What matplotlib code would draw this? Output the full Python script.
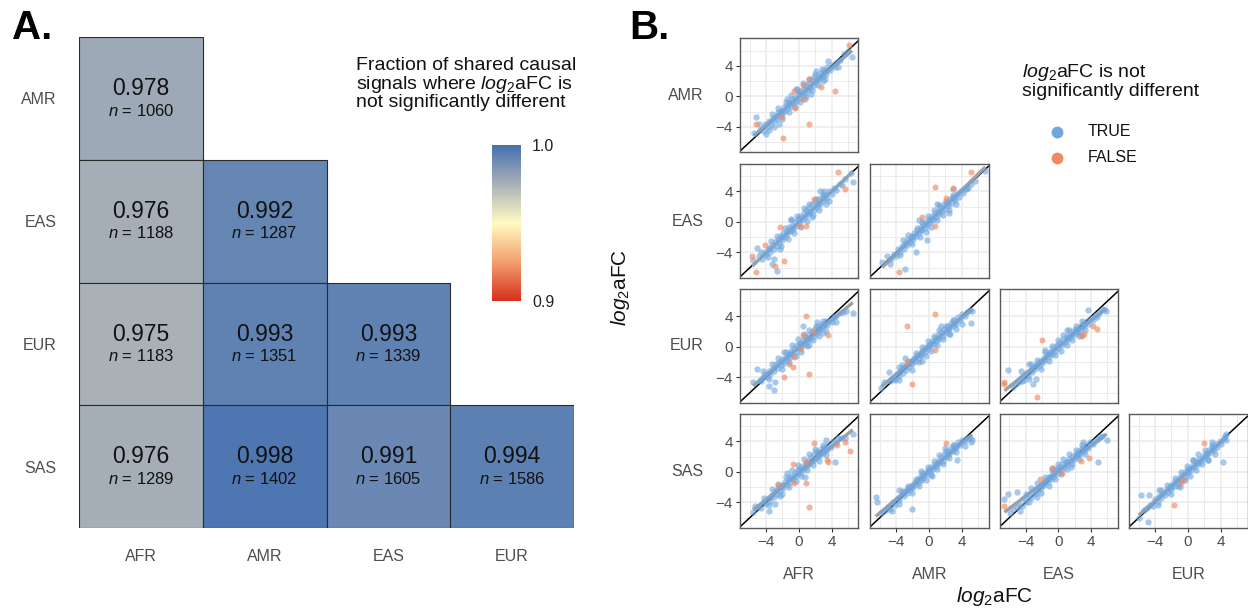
import matplotlib.pyplot as plt
import numpy as np
from matplotlib.colors import LinearSegmentedColormap, Normalize
from matplotlib.patches import Rectangle
from matplotlib.lines import Line2D

plt.rcParams['font.family'] = ['Liberation Sans', 'DejaVu Sans']
plt.rcParams['mathtext.fontset'] = 'custom'
plt.rcParams['mathtext.rm'] = 'Liberation Sans'
plt.rcParams['mathtext.it'] = 'Liberation Sans:italic'

W, H = 1248, 610

# panel A: fraction of shared signals with no significant log2aFC difference
row_pops = ['AMR', 'EAS', 'EUR', 'SAS']
col_pops = ['AFR', 'AMR', 'EAS', 'EUR']
frac_same = [
    [0.978, None, None, None],
    [0.976, 0.992, None, None],
    [0.975, 0.993, 0.993, None],
    [0.976, 0.998, 0.991, 0.994],
]
n_shared = [
    [1060, None, None, None],
    [1188, 1287, None, None],
    [1183, 1351, 1339, None],
    [1289, 1402, 1605, 1586],
]

# panel B: log2aFC of shared signals, (x, y) per population pair
amr_afr_true = [
    (-4.7, -4.4), (-4.3, -4.6), (-4.1, -3.7), (-3.8, -4.0), (-3.6, -3.3), (-3.4, -3.7), (-3.2, -2.9),
    (-3.0, -3.3), (-2.8, -2.6), (-2.7, -3.0), (-2.5, -2.1), (-2.3, -2.6), (-2.2, -1.9), (-2.0, -2.3),
    (-1.8, -1.4), (-1.7, -1.9), (-1.5, -1.1), (-1.3, -1.6), (-1.2, -0.8), (-1.0, -1.3), (-0.8, -0.4),
    (-0.6, -0.9), (-0.5, -0.2), (-0.3, -0.6), (-0.1, 0.3), (0.1, -0.2), (0.2, 0.7), (0.4, 0.1),
    (0.6, 1.1), (0.7, 0.4), (0.9, 1.5), (1.1, 0.8), (1.2, 1.7), (1.4, 1.1), (1.6, 2.1), (1.8, 1.5),
    (1.9, 2.5), (2.1, 1.9), (2.3, 2.7), (2.5, 2.2), (2.7, 3.1), (2.9, 2.5), (3.1, 3.4), (3.3, 2.9),
    (3.5, 3.8), (3.8, 3.4), (4.1, 4.1), (4.4, 3.9), (4.7, 4.5), (5.0, 4.8),
    (-2.6, -1.6), (-2.0, -3.0), (-1.6, -0.7), (-1.2, -2.1), (-0.9, 0.1), (-0.5, -1.4), (-0.2, 0.9),
    (0.2, -0.8), (0.5, 1.7), (0.9, 0.0), (1.2, 2.3), (1.6, 0.8), (2.0, 2.9), (2.4, 1.5), (2.8, 3.6),
    (3.2, 2.2), (-3.3, -2.3), (-3.6, -4.4), (0.0, 0.6), (1.0, 1.1), (-1.0, -0.9), (2.2, 2.2),
    (-2.0, -1.9), (3.0, 3.0),
    (-5.2, -2.7), (-4.0, -4.9), (-3.1, -4.0), (-5.5, -4.8), (-4.9, -3.6), (3.0, 2.0), (4.8, 3.9),
    (5.5, 5.6), (6.5, 5.2), (6.0, 5.9), (2.1, 3.3), (-0.3, 1.0), (1.5, 0.3), (3.6, 4.6),
    (-1.4, -0.3), (0.8, -0.3), (-2.4, -3.6),
]
amr_afr_false = [
    (6.1, 6.7), (-0.6, 0.7), (0.5, 1.5), (2.7, 1.2), (4.4, 0.7), (0.5, -0.4), (-0.5, -1.5),
    (-2.0, -2.7), (-5.3, -3.7), (1.2, -3.7), (-1.9, -5.5), (1.2, 2.3),
]

eas_afr_true = [
    (-4.9, -4.5), (-4.5, -4.8), (-4.2, -3.9), (-4.0, -4.3), (-3.7, -3.4), (-3.5, -3.9), (-3.3, -3.0),
    (-3.1, -3.5), (-2.9, -2.6), (-2.7, -3.1), (-2.5, -2.3), (-2.4, -2.7), (-2.2, -1.8), (-2.0, -2.4),
    (-1.9, -1.5), (-1.7, -2.0), (-1.5, -1.2), (-1.4, -1.6), (-1.2, -0.7), (-1.0, -1.2), (-0.8, -0.5),
    (-0.7, -0.9), (-0.5, 0.0), (-0.3, -0.5), (-0.1, 0.4), (0.0, -0.1), (0.2, 0.8), (0.4, 0.3),
    (0.6, 1.2), (0.7, 0.6), (0.9, 1.6), (1.1, 1.0), (1.3, 1.9), (1.4, 1.3), (1.6, 2.3), (1.8, 1.6),
    (2.0, 2.6), (2.2, 2.0), (2.4, 3.0), (2.6, 2.3), (2.8, 3.3), (3.0, 2.7), (3.2, 3.6), (3.5, 3.1),
    (3.7, 4.0), (4.0, 3.7), (4.3, 4.4), (4.6, 4.2), (5.0, 5.0), (5.3, 4.9),
    (-2.7, -1.8), (-2.2, -3.1), (-1.7, -0.8), (-1.3, -2.2), (-0.9, 0.2), (-0.6, -1.5), (-0.2, 0.8),
    (0.3, -0.7), (0.6, 1.8), (1.0, 0.1), (1.3, 2.4), (1.7, 0.9), (2.1, 3.0), (2.5, 1.6), (2.9, 3.7),
    (3.3, 2.3), (-3.4, -2.5), (-3.8, -4.6), (0.1, 0.5), (1.1, 1.3), (-1.1, -1.0), (2.3, 2.4),
    (-2.1, -2.0), (3.1, 3.1),
    (6.4, 6.4), (6.6, 5.3), (-5.1, -3.4), (-4.6, -4.0), (-3.6, -3.6), (-3.1, -4.9), (-2.7, -6.4),
    (-3.3, -5.5), (3.7, 2.8), (3.1, 4.1), (5.7, 5.6), (-5.6, -5.0), (-1.0, 0.4), (1.6, 0.6),
    (2.6, 4.0), (-2.3, -3.6),
]
eas_afr_false = [
    (4.8, 6.6), (5.6, 4.3), (1.8, 3.0), (0.9, -0.55), (-2.3, -0.6), (0.1, -0.55), (-4.1, -3.0),
    (-5.7, -4.5), (-1.8, -5.1), (-2.9, -5.8), (-5.3, -6.6),
]

eas_amr_true = [
    (-4.6, -4.8), (-4.3, -4.2), (-4.0, -4.4), (-3.8, -3.6), (-3.5, -3.9), (-3.3, -3.1), (-3.1, -3.5),
    (-2.9, -2.7), (-2.7, -3.0), (-2.5, -2.2), (-2.3, -2.6), (-2.1, -1.8), (-1.9, -2.2), (-1.8, -1.4),
    (-1.6, -1.9), (-1.4, -1.1), (-1.2, -1.5), (-1.0, -0.7), (-0.9, -1.1), (-0.7, -0.3), (-0.5, -0.8),
    (-0.3, 0.0), (-0.2, -0.4), (0.0, 0.4), (0.2, 0.0), (0.4, 0.8), (0.5, 0.3), (0.7, 1.2), (0.9, 0.7),
    (1.1, 1.5), (1.2, 1.0), (1.4, 1.9), (1.6, 1.4), (1.8, 2.3), (2.0, 1.7), (2.2, 2.6), (2.4, 2.1),
    (2.6, 3.0), (2.8, 2.5), (3.0, 3.3), (3.2, 2.9), (3.4, 3.7), (3.7, 3.3), (3.9, 4.0), (4.2, 3.8),
    (4.5, 4.5), (4.8, 4.4), (5.1, 5.0),
    (-2.5, -1.7), (-2.1, -2.9), (-1.5, -0.8), (-1.1, -2.0), (-0.8, 0.0), (-0.4, -1.3), (-0.1, 0.8),
    (0.3, -0.7), (0.6, 1.6), (1.0, 0.2), (1.3, 2.2), (1.7, 0.9), (2.1, 2.8), (2.5, 1.6), (2.9, 3.5),
    (3.3, 2.3), (-3.2, -2.4), (-3.5, -4.3), (0.1, 0.3), (1.2, 1.3), (-1.0, -1.0), (2.3, 2.4),
    (-2.0, -2.0), (3.1, 3.1),
    (-2.9, -6.2), (-1.6, -4.0), (-0.2, -2.4), (-5.7, -5.2), (-5.1, -4.5), (6.9, 6.7), (4.5, 4.3),
    (5.6, 5.4), (-4.8, -5.5), (2.5, 1.2), (-1.2, 0.2), (3.0, 4.3), (1.0, 2.4),
]
eas_amr_false = [
    (5.2, 6.6), (0.7, 4.6), (3.0, 4.5), (2.1, 3.1), (-0.8, 0.7), (0.7, -0.55), (-3.7, -6.6),
]

eur_afr_true = [
    (-4.8, -4.3), (-4.4, -4.0), (-4.2, -3.6), (-3.9, -3.9), (-3.7, -3.1), (-3.5, -3.5), (-3.2, -2.7),
    (-3.0, -3.1), (-2.8, -2.3), (-2.6, -2.8), (-2.4, -2.0), (-2.2, -2.4), (-2.0, -1.6), (-1.8, -2.1),
    (-1.6, -1.3), (-1.5, -1.7), (-1.3, -0.9), (-1.1, -1.3), (-0.9, -0.5), (-0.8, -1.0), (-0.6, -0.2),
    (-0.4, -0.6), (-0.2, 0.2), (0.0, -0.2), (0.1, 0.5), (0.3, 0.1), (0.5, 0.9), (0.7, 0.4), (0.8, 1.3),
    (1.0, 0.8), (1.2, 1.6), (1.4, 1.1), (1.6, 2.0), (1.8, 1.5), (2.0, 2.3), (2.2, 1.8), (2.4, 2.7),
    (2.6, 2.2), (2.8, 3.0), (3.0, 2.6), (3.3, 3.4), (3.5, 2.9), (3.8, 3.6), (4.0, 3.3), (4.3, 3.9),
    (4.6, 4.1), (5.0, 4.4), (5.4, 4.6),
    (-2.5, -1.5), (-2.1, -2.9), (-1.6, -0.6), (-1.2, -2.0), (-0.8, 0.2), (-0.4, -1.2), (-0.1, 1.0),
    (0.3, -0.6), (0.6, 1.7), (1.0, 0.1), (1.3, 2.2), (1.7, 0.9), (2.1, 2.8), (2.5, 1.4), (2.9, 3.4),
    (3.3, 2.1), (-3.3, -2.2), (-3.6, -4.2), (0.1, 0.4), (1.1, 1.2), (-1.0, -0.8), (2.3, 2.2),
    (-2.0, -1.8), (3.1, 2.9),
    (6.6, 4.4), (5.8, 4.7), (-5.1, -2.9), (-4.4, -3.1), (-3.7, -5.1), (-3.0, -5.7), (-2.9, -4.6),
    (0.5, 2.7), (-4.6, -4.5), (-5.6, -4.6), (3.0, 1.8), (1.2, 0.2), (-1.8, -0.6), (2.2, 3.3), (4.5, 3.3),
]
eur_afr_false = [
    (0.9, 4.0), (3.6, 1.6), (1.7, 2.1), (0.5, 1.6), (0.3, -0.3), (-0.6, -1.3), (-1.2, -2.3),
    (-0.7, -2.6), (-1.8, -4.0), (1.2, -3.5),
]

eur_amr_true = [
    (-4.7, -4.5), (-4.4, -4.1), (-4.1, -4.3), (-3.9, -3.5), (-3.6, -3.8), (-3.4, -3.0), (-3.2, -3.4),
    (-3.0, -2.6), (-2.8, -3.0), (-2.6, -2.3), (-2.4, -2.6), (-2.2, -1.9), (-2.0, -2.2), (-1.8, -1.5),
    (-1.6, -1.9), (-1.4, -1.1), (-1.2, -1.5), (-1.0, -0.7), (-0.9, -1.1), (-0.7, -0.4), (-0.5, -0.7),
    (-0.3, 0.0), (-0.1, -0.3), (0.1, 0.4), (0.2, 0.1), (0.4, 0.8), (0.6, 0.4), (0.8, 1.2), (0.9, 0.8),
    (1.1, 1.6), (1.3, 1.1), (1.5, 2.0), (1.7, 1.5), (1.9, 2.4), (2.1, 1.9), (2.3, 2.8), (2.5, 2.3),
    (2.7, 3.2), (2.9, 2.7), (3.1, 3.5), (3.3, 3.0), (3.6, 3.9), (3.8, 3.5), (4.1, 4.3), (4.4, 4.0),
    (4.7, 4.6), (5.0, 4.9),
    (-2.6, -1.8), (-2.1, -3.0), (-1.6, -0.8), (-1.2, -2.0), (-0.8, 0.0), (-0.4, -1.2), (-0.1, 0.8),
    (0.3, -0.5), (0.6, 1.5), (1.0, 0.3), (1.3, 2.2), (1.7, 1.0), (2.1, 2.8), (2.5, 1.7), (2.9, 3.5),
    (3.3, 2.4), (-3.3, -2.4), (-3.6, -4.3), (0.0, 0.2), (1.1, 1.2), (-1.0, -1.0), (2.3, 2.4),
    (-2.0, -2.0), (3.1, 3.1),
    (5.2, 3.1), (5.3, 4.7), (-4.9, -3.3), (-4.3, -4.2), (-5.5, -4.6), (-2.9, -1.4), (-5.8, -5.4),
    (4.0, 3.0), (2.6, 1.7), (-0.8, -1.9), (1.5, 2.7), (-3.6, -2.6),
]
eur_amr_false = [(0.7, 4.3), (-2.7, 2.7), (0.7, -0.4), (-2.7, -2.0), (-2.1, -4.9)]

eur_eas_true = [
    (-5.2, -4.8), (-4.8, -4.6), (-4.5, -4.0), (-4.2, -4.3), (-3.9, -3.4), (-3.7, -3.8), (-3.4, -3.0),
    (-3.2, -3.3), (-3.0, -2.6), (-2.8, -2.9), (-2.6, -2.2), (-2.4, -2.5), (-2.2, -1.8), (-2.0, -2.1),
    (-1.8, -1.4), (-1.6, -1.7), (-1.4, -1.0), (-1.2, -1.3), (-1.0, -0.6), (-0.8, -0.9), (-0.6, -0.2),
    (-0.4, -0.5), (-0.2, 0.2), (0.0, -0.1), (0.2, 0.6), (0.4, 0.3), (0.6, 1.0), (0.8, 0.6), (1.0, 1.4),
    (1.2, 1.0), (1.4, 1.7), (1.6, 1.3), (1.8, 2.1), (2.0, 1.7), (2.2, 2.4), (2.4, 2.0), (2.6, 2.8),
    (2.8, 2.4), (3.0, 3.1), (3.2, 2.7), (3.5, 3.4), (3.7, 3.0), (4.0, 3.8), (4.3, 3.6), (4.6, 4.2),
    (5.0, 4.5), (5.4, 4.8),
    (-2.6, -1.7), (-2.1, -2.9), (-1.6, -0.7), (-1.2, -1.9), (-0.8, 0.1), (-0.4, -1.1), (-0.1, 0.9),
    (0.3, -0.5), (0.6, 1.6), (1.0, 0.3), (1.3, 2.2), (1.7, 0.9), (2.1, 2.7), (2.5, 1.5), (2.9, 3.4),
    (3.3, 2.2), (-3.3, -2.3), (-3.6, -4.2), (0.0, 0.3), (1.1, 1.2), (-1.0, -0.8), (2.3, 2.2),
    (-2.0, -1.8), (3.1, 2.9),
    (-6.1, -3.0), (-4.6, -3.1), (-3.6, -2.3), (-4.4, -4.5), (-2.7, -4.2), (-3.1, -4.9), (5.8, 4.7),
    (3.6, 4.8), (5.6, 5.0), (-5.6, -5.2), (1.0, 2.2), (2.8, 1.6), (-1.6, -0.4), (4.7, 3.9),
]
eur_eas_false = [
    (-6.6, -4.6), (-6.6, -4.9), (-2.0, 0.9), (4.2, 2.75), (4.7, 2.4), (3.1, 1.7), (2.9, 1.4), (-2.6, -6.6),
]

sas_afr_true = [
    (-5.0, -4.6), (-4.6, -4.7), (-4.3, -4.0), (-4.0, -4.2), (-3.7, -3.4), (-3.5, -3.8), (-3.3, -3.0),
    (-3.1, -3.3), (-2.9, -2.5), (-2.7, -2.9), (-2.5, -2.1), (-2.3, -2.5), (-2.1, -1.7), (-1.9, -2.1),
    (-1.7, -1.3), (-1.5, -1.7), (-1.3, -0.9), (-1.1, -1.3), (-0.9, -0.5), (-0.7, -0.9), (-0.5, -0.1),
    (-0.3, -0.5), (-0.1, 0.3), (0.1, -0.1), (0.3, 0.7), (0.5, 0.3), (0.7, 1.1), (0.9, 0.7), (1.1, 1.5),
    (1.3, 1.0), (1.5, 1.9), (1.7, 1.4), (1.9, 2.3), (2.1, 1.8), (2.3, 2.6), (2.5, 2.1), (2.7, 3.0),
    (2.9, 2.5), (3.1, 3.3), (3.4, 2.9), (3.6, 3.6), (3.9, 3.3), (4.2, 4.0), (4.5, 3.8), (4.8, 4.4),
    (5.2, 4.5),
    (-2.6, -1.6), (-2.1, -2.9), (-1.6, -0.6), (-1.2, -2.0), (-0.8, 0.2), (-0.4, -1.2), (-0.1, 0.9),
    (0.3, -0.5), (0.6, 1.7), (1.0, 0.2), (1.3, 2.3), (1.7, 0.9), (2.1, 2.8), (2.5, 1.5), (2.9, 3.5),
    (3.3, 2.2), (-3.3, -2.3), (-3.6, -4.3), (0.0, 0.4), (1.1, 1.2), (-1.0, -0.8), (2.3, 2.3),
    (-2.0, -1.9), (3.1, 3.0),
    (6.6, 5.0), (4.4, 1.3), (-5.4, -4.4), (-3.7, -5.1), (-2.9, -4.2), (-4.3, -3.4), (-5.6, -5.2),
    (3.3, 4.2), (5.7, 4.4), (2.0, 3.0), (-1.5, -0.1), (0.8, -0.6), (-2.3, -3.2),
]
sas_afr_false = [
    (1.8, 3.8), (5.6, 3.9), (6.2, 2.8), (4.7, 3.6), (3.5, 1.6), (3.6, 1.3), (-0.7, 1.0), (0.9, 1.3),
    (-0.6, -1.4), (0.9, -1.4), (-2.6, -1.7), (1.2, -4.6),
]

sas_amr_true = [
    (-5.3, -5.0), (-5.0, -4.6), (-4.7, -4.8), (-4.4, -4.0), (-4.1, -4.3), (-3.8, -3.4), (-3.6, -3.7),
    (-3.3, -2.9), (-3.1, -3.2), (-2.9, -2.5), (-2.7, -2.8), (-2.5, -2.1), (-2.3, -2.4), (-2.1, -1.7),
    (-1.9, -2.0), (-1.7, -1.3), (-1.5, -1.6), (-1.3, -0.9), (-1.1, -1.2), (-0.9, -0.5), (-0.7, -0.8),
    (-0.5, -0.1), (-0.3, -0.4), (-0.1, 0.3), (0.1, 0.0), (0.3, 0.7), (0.5, 0.4), (0.7, 1.1), (0.9, 0.8),
    (1.1, 1.5), (1.3, 1.2), (1.5, 1.9), (1.7, 1.5), (1.9, 2.3), (2.1, 1.9), (2.3, 2.7), (2.5, 2.3),
    (2.7, 3.1), (2.9, 2.7), (3.1, 3.5), (3.3, 3.1), (3.6, 3.9), (3.8, 3.5), (4.1, 4.2), (4.4, 4.0),
    (4.7, 4.5), (5.0, 4.4),
    (-2.6, -1.9), (-2.1, -2.8), (-1.6, -0.9), (-1.2, -1.9), (-0.8, -0.1), (-0.4, -1.1), (-0.1, 0.7),
    (0.3, -0.4), (0.6, 1.5), (1.0, 0.4), (1.3, 2.2), (1.7, 1.1), (2.1, 2.8), (2.5, 1.8), (2.9, 3.5),
    (3.3, 2.6), (-3.3, -2.5), (-3.6, -4.2), (0.0, 0.2), (1.1, 1.2), (-1.0, -1.0), (2.3, 2.4),
    (-2.0, -2.0), (3.1, 3.2),
    (-6.5, -3.3), (-6.4, -4.0), (-2.1, -4.8), (-4.5, -5.1), (5.3, 4.2), (3.4, 1.6), (5.1, 3.9),
    (-5.8, -5.4), (-3.6, -2.4), (2.0, 3.2), (0.4, -0.5), (-1.0, 0.1), (4.4, 3.4),
]
sas_amr_false = [(2.1, 3.8)]

sas_eas_true = [
    (-5.5, -4.9), (-5.1, -4.6), (-4.8, -4.2), (-4.5, -4.4), (-4.2, -3.6), (-3.9, -3.9), (-3.6, -3.1),
    (-3.4, -3.4), (-3.1, -2.6), (-2.9, -2.9), (-2.7, -2.2), (-2.5, -2.5), (-2.3, -1.8), (-2.1, -2.1),
    (-1.9, -1.4), (-1.7, -1.7), (-1.5, -1.0), (-1.3, -1.3), (-1.1, -0.6), (-0.9, -0.9), (-0.7, -0.2),
    (-0.5, -0.5), (-0.3, 0.2), (-0.1, -0.1), (0.1, 0.6), (0.3, 0.3), (0.5, 1.0), (0.7, 0.7), (0.9, 1.3),
    (1.1, 1.0), (1.3, 1.7), (1.5, 1.4), (1.7, 2.1), (1.9, 1.7), (2.1, 2.4), (2.3, 2.1), (2.5, 2.8),
    (2.7, 2.4), (2.9, 3.1), (3.1, 2.8), (3.4, 3.5), (3.6, 3.1), (3.9, 3.9), (4.2, 3.7), (4.5, 4.1),
    (4.8, 4.3), (5.1, 4.6),
    (-2.6, -1.5), (-2.1, -2.7), (-1.6, -0.6), (-1.2, -1.8), (-0.8, 0.3), (-0.4, -0.9), (-0.1, 1.0),
    (0.3, -0.3), (0.6, 1.7), (1.0, 0.4), (1.3, 2.3), (1.7, 1.1), (2.1, 2.9), (2.5, 1.7), (2.9, 3.5),
    (3.3, 2.4), (-3.3, -2.1), (-3.6, -4.0), (0.0, 0.4), (1.1, 1.3), (-1.0, -0.7), (2.3, 2.4),
    (-2.0, -1.7), (3.1, 3.0),
    (-6.1, -2.9), (-6.6, -3.6), (-5.1, -2.6), (-4.7, -5.1), (4.9, 1.3), (5.9, 4.2), (5.4, 4.7),
    (-5.9, -5.4), (-4.0, -2.9), (3.0, 3.9), (-0.8, 0.5), (1.6, 0.6), (-2.6, -3.3),
]
sas_eas_false = [(-6.6, -4.4), (-2.3, -0.9), (0.5, -0.2), (3.7, 1.8), (2.8, 1.4), (-0.6, 0.5)]

sas_eur_true = [
    (-5.0, -4.7), (-4.6, -4.3), (-4.3, -4.4), (-4.0, -3.6), (-3.7, -3.9), (-3.5, -3.1), (-3.3, -3.4),
    (-3.0, -2.7), (-2.8, -3.0), (-2.6, -2.3), (-2.4, -2.6), (-2.2, -1.9), (-2.0, -2.2), (-1.8, -1.5),
    (-1.6, -1.8), (-1.4, -1.1), (-1.2, -1.4), (-1.0, -0.7), (-0.8, -1.0), (-0.6, -0.3), (-0.4, -0.6),
    (-0.2, 0.1), (0.0, -0.2), (0.2, 0.5), (0.4, 0.2), (0.6, 0.9), (0.8, 0.6), (1.0, 1.3), (1.2, 1.0),
    (1.4, 1.7), (1.6, 1.4), (1.8, 2.1), (2.0, 1.8), (2.2, 2.5), (2.4, 2.2), (2.6, 2.9), (2.8, 2.6),
    (3.0, 3.3), (3.2, 2.9), (3.4, 3.7), (3.6, 3.3), (3.9, 4.0), (4.1, 3.7), (4.4, 4.4), (4.7, 4.2),
    (-2.6, -1.7), (-2.1, -2.9), (-1.6, -0.8), (-1.2, -1.9), (-0.8, 0.0), (-0.4, -1.1), (-0.1, 0.8),
    (0.3, -0.5), (0.6, 1.6), (1.0, 0.3), (1.3, 2.3), (1.7, 1.0), (2.1, 2.9), (2.5, 1.6), (2.9, 3.6),
    (3.3, 2.4), (-3.3, -2.4), (-3.6, -4.3), (0.0, 0.2), (1.1, 1.2), (-1.0, -1.0), (2.3, 2.4),
    (-2.0, -2.0), (3.1, 3.1),
    (-5.7, -3.0), (-4.8, -3.0), (-4.9, -6.6), (-6.0, -6.0), (4.3, 1.3), (4.7, 5.0), (-5.4, -5.0),
    (-3.5, -2.4), (3.0, 3.9), (2.5, 1.6), (-1.0, -2.0), (0.6, 1.6), (4.5, 4.7),
]
sas_eur_false = [(2.0, 3.8), (-0.8, -1.4), (-1.7, -4.3), (-0.6, -1.1)]

scatter_panels = [
    ('AMR', 'AFR', amr_afr_true, amr_afr_false),
    ('EAS', 'AFR', eas_afr_true, eas_afr_false),
    ('EAS', 'AMR', eas_amr_true, eas_amr_false),
    ('EUR', 'AFR', eur_afr_true, eur_afr_false),
    ('EUR', 'AMR', eur_amr_true, eur_amr_false),
    ('EUR', 'EAS', eur_eas_true, eur_eas_false),
    ('SAS', 'AFR', sas_afr_true, sas_afr_false),
    ('SAS', 'AMR', sas_amr_true, sas_amr_false),
    ('SAS', 'EAS', sas_eas_true, sas_eas_false),
    ('SAS', 'EUR', sas_eur_true, sas_eur_false),
]

TRUE_COL = '#6FA6DE'
FALSE_COL = '#EF8A62'
AXIS_GREY = '#4D4D4D'
LOG2AFC = r'$\mathit{log}_{\mathit{2}}$aFC'

frac_cmap = LinearSegmentedColormap.from_list(
    'frac', [(0.0, '#D7301F'), (0.25, '#F3A06E'), (0.5, '#FFFBC2'), (0.75, '#A9B1B7'), (1.0, '#4671B0')])
frac_norm = Normalize(0.9, 1.0)


def px_axes(fig, x0, y0, x1, y1):
    # axes placed by pixel box (left, top, right, bottom)
    return fig.add_axes([x0 / W, 1 - y1 / H, (x1 - x0) / W, (y1 - y0) / H])


fig = plt.figure(figsize=(W / 100, H / 100), dpi=100)

# ---- A. heatmap ----
ax = px_axes(fig, 79, 37, 574, 528)
for r, row in enumerate(frac_same):
    for c, val in enumerate(row):
        if val is None:
            continue
        ax.add_patch(Rectangle((c, r), 1, 1, facecolor=frac_cmap(frac_norm(val)),
                               edgecolor='#2B2B2B', lw=0.8))
        ax.text(c + 0.5, r + 0.42, f'{val:.3f}', ha='center', va='center', fontsize=16.5, color='#111111')
        ax.text(c + 0.5, r + 0.6, rf'$\mathit{{n}}$ = {n_shared[r][c]}', ha='center', va='center',
                fontsize=12, color='#111111')
ax.set_xlim(0, 4)
ax.set_ylim(4, 0)
ax.set_xticks(np.arange(4) + 0.5, col_pops)
ax.set_yticks(np.arange(4) + 0.5, row_pops)
ax.tick_params(length=0, labelsize=11.5, labelcolor=AXIS_GREY)
ax.tick_params(axis='x', pad=15)
ax.tick_params(axis='y', pad=16)
for s in ax.spines.values():
    s.set_visible(False)

fig.text(356 / W, 1 - 57 / H, 'Fraction of shared causal\nsignals where ' + LOG2AFC + ' is\nnot significantly different',
         ha='left', va='top', fontsize=14, linespacing=0.98, color='#111111')

cax = px_axes(fig, 492, 145, 521, 301)
grad = np.linspace(0.9, 1.0, 256).reshape(-1, 1)
cax.imshow(grad, aspect='auto', cmap=frac_cmap, norm=frac_norm, origin='lower', extent=[0, 1, 0.9, 1.0])
cax.set_xticks([])
cax.yaxis.tick_right()
cax.set_yticks([0.9, 1.0], ['0.9', '1.0'])
cax.tick_params(axis='y', length=0, pad=8, labelsize=11.5, labelcolor='#222222')
for s in cax.spines.values():
    s.set_visible(False)

fig.text(12 / W, 1 - 28 / H, 'A.', fontsize=29, fontweight='bold', va='center', ha='left')
fig.text(629 / W, 1 - 28 / H, 'B.', fontsize=29, fontweight='bold', va='center', ha='left')

# ---- B. pairwise scatter grid ----
col_left = [740, 870, 999.5, 1129]
row_top = [38.3, 164, 289, 414]
pw, ph = 118.5, 114

for row_pop, col_pop, pts_true, pts_false in scatter_panels:
    r = row_pops.index(row_pop)
    c = col_pops.index(col_pop)
    x0, y0 = col_left[c], row_top[r]
    ax = px_axes(fig, x0, y0, x0 + pw, y0 + ph)
    ax.set_xlim(-7.2, 7.3)
    ax.set_ylim(-7.35, 7.6)
    ax.set_xticks([-4, 0, 4])
    ax.set_yticks([-4, 0, 4])
    ax.set_xticks([-6, -2, 2, 6], minor=True)
    ax.set_yticks([-6, -2, 2, 6], minor=True)
    ax.grid(which='major', color='#EBEBEB', lw=1.1)
    ax.grid(which='minor', color='#EBEBEB', lw=0.7)
    ax.set_axisbelow(True)
    for s in ax.spines.values():
        s.set_color('#5A5A5A')
        s.set_linewidth(1.0)

    tx, ty = np.array(pts_true).T
    fx, fy = np.array(pts_false).T
    ax.axline((0, 0), slope=1, color='black', lw=1.1, zorder=1)
    allx = np.concatenate([tx, fx])
    ally = np.concatenate([ty, fy])
    slope, icpt = np.polyfit(allx, ally, 1)
    xs = np.array([allx.min(), allx.max()])
    ax.plot(xs, slope * xs + icpt, color='#A0A0A0', lw=2.4, zorder=2, solid_capstyle='butt')
    ax.scatter(tx, ty, s=21, color=TRUE_COL, alpha=0.6, lw=0, zorder=3)
    ax.scatter(fx, fy, s=19, color=FALSE_COL, alpha=0.65, lw=0, zorder=4)

    ax.tick_params(which='minor', length=0)
    ax.tick_params(which='major', length=3, width=0.8, color='#333333', labelsize=11,
                   labelcolor=AXIS_GREY, pad=2)
    if c == 0:
        ax.text(-0.31, 0.5, row_pop, transform=ax.transAxes, ha='right', va='center',
                fontsize=11.5, color=AXIS_GREY)
    else:
        ax.tick_params(axis='y', length=0, labelleft=False)
    if r == 3:
        ax.text(0.5, -0.41, col_pop, transform=ax.transAxes, ha='center', va='center',
                fontsize=11.5, color=AXIS_GREY)
    else:
        ax.tick_params(axis='x', length=0, labelbottom=False)

fig.text(995 / W, 1 - 597 / H, LOG2AFC, ha='center', va='center', fontsize=15, color='#111111')
fig.text(621 / W, 1 - 287 / H, LOG2AFC, ha='center', va='center', fontsize=15, rotation=90,
         color='#111111')

# legend for panel B
fig.text(1022 / W, 1 - 62 / H, LOG2AFC + ' is not\nsignificantly different', ha='left', va='top',
         fontsize=14, linespacing=0.98, color='#111111')
for yy, col, lab in [(132, TRUE_COL, 'TRUE'), (158, FALSE_COL, 'FALSE')]:
    fig.add_artist(Line2D([1057 / W], [1 - yy / H], marker='o', ms=7.5, color=col, lw=0,
                          transform=fig.transFigure))
    fig.text(1088 / W, 1 - yy / H, lab, ha='left', va='center', fontsize=11.5, color='#111111')

fig.savefig('out.png', dpi=100)
